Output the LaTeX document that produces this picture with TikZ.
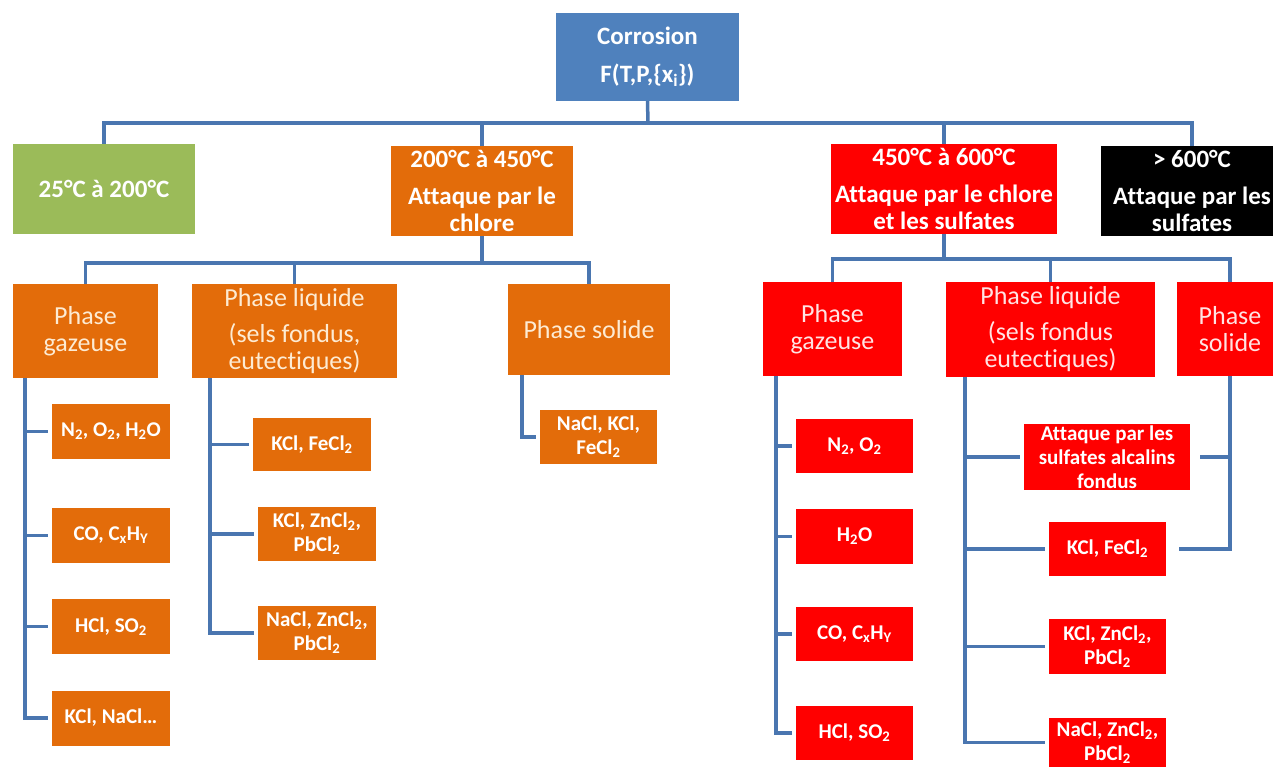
\documentclass[tikz,border=0pt]{standalone}
\usepackage{fontspec}
\setmainfont{Carlito}[Ligatures=NoCommon]
\definecolor{cblue}{HTML}{4F81BD}
\definecolor{lineblue}{HTML}{4A76B0}
\definecolor{cgreen}{HTML}{9BBB59}
\definecolor{corange}{HTML}{E36C0A}
\definecolor{cred}{HTML}{FF0000}
\definecolor{cream}{HTML}{FDEBD3}
\definecolor{pinkw}{HTML}{FFE3E3}
\begin{document}
\begin{tikzpicture}[x=1pt,y=-1pt,
  box/.style={rectangle, inner sep=0pt, outer sep=0pt, align=center},
  big/.style={box, font=\bfseries\fontsize{25}{27}\selectfont, text=white},
  ph/.style={box, font=\fontsize{26}{27}\selectfont},
  sm/.style={box, font=\bfseries\fontsize{21}{24}\selectfont, text=white},
  conn/.style={draw=lineblue, line width=3.5pt},
  tick/.style={conn, shorten >=4pt},
  ]
\useasboundingbox (0,0) rectangle (1273,767);
\clip (0,0) rectangle (1273,767);

% root
\node[big, fill=cblue, minimum width=183pt, minimum height=88pt] (root) at (647.5,57)
  {Corrosion\\[11pt]F(T,P,\{x\textsubscript{i}\})};

% level 1
\node[big, fill=cgreen, minimum width=182pt, minimum height=90pt] (g1) at (104,189) {25°C à 200°C};
\node[big, fill=corange, minimum width=182pt, minimum height=90pt] (o1) at (482,191)
  {200°C à 450°C\\[10pt]Attaque par le\\chlore};
\node[big, fill=cred, minimum width=226pt, minimum height=90pt] (r1) at (944,189)
  {450°C à 600°C\\[10pt]Attaque par le chlore\\et les sulfates};
\node[big, fill=black, minimum width=182pt, minimum height=90pt] (b1) at (1192,191)
  {> 600°C\\[10pt]Attaque par les\\sulfates};

\coordinate (bar1) at (648,123);
\draw[conn] (root.south) -- (bar1);
\draw[conn] (g1.north) -- (g1.north |- bar1) -- (b1.north |- bar1) -- (b1.north);
\draw[conn] (o1.north) -- (o1.north |- bar1);
\draw[conn] (r1.north) -- (r1.north |- bar1);

% orange phases
\node[ph, fill=corange, text=cream, minimum width=145pt, minimum height=94pt] (og) at (85.5,331) {Phase\\gazeuse};
\node[ph, fill=corange, text=cream, minimum width=205pt, minimum height=94pt] (ol) at (294.5,331)
  {Phase liquide\\[9pt](sels fondus,\\eutectiques)};
\node[ph, fill=corange, text=cream, minimum width=162pt, minimum height=91pt] (os) at (589,329.5) {Phase solide};

\coordinate (bar2) at (482,263);
\draw[conn] (o1.south) -- (o1.south |- bar2);
\draw[conn] (og.north) -- (og.north |- bar2) -- (os.north |- bar2) -- (os.north);
\draw[conn] (ol.north) -- (ol.north |- bar2);

% red phases
\node[ph, fill=cred, text=pinkw, minimum width=139pt, minimum height=94pt] (rg) at (832.5,329) {Phase\\gazeuse};
\node[ph, fill=cred, text=pinkw, minimum width=209pt, minimum height=95pt] (rl) at (1050.5,329.5)
  {Phase liquide\\[9pt](sels fondus\\eutectiques)};
\node[ph, fill=cred, text=pinkw, minimum width=106pt, minimum height=94pt] (rs) at (1230,329) {Phase\\solide};

\coordinate (bar3) at (944,259);
\draw[conn] (r1.south) -- (r1.south |- bar3);
\draw[conn] (rg.north) -- (rg.north |- bar3) -- (rs.north |- bar3) -- (rs.north);
\draw[conn] (rl.north) -- (rl.north |- bar3);

% orange gas children
\node[sm, fill=corange, minimum width=118pt, minimum height=55pt] (ogk1) at (111,431.5) {N\textsubscript{2}, O\textsubscript{2}, H\textsubscript{2}O};
\node[sm, fill=corange, minimum width=118pt, minimum height=55pt] (ogk2) at (111,535.5) {CO, C\textsubscript{x}H\textsubscript{Y}};
\node[sm, fill=corange, minimum width=118pt, minimum height=55pt] (ogk3) at (111,626.5) {HCl, SO\textsubscript{2}};
\node[sm, fill=corange, minimum width=118pt, minimum height=55pt] (ogk4) at (111,718) {KCl, NaCl…};
\coordinate (ogx) at (25,0);
\draw[tick] (og.south -| ogx) |- (ogk4.west);
\foreach \k in {ogk1,ogk2,ogk3} \draw[tick] (ogx |- \k.west) -- (\k.west);

% orange liquid children
\node[sm, fill=corange, minimum width=118pt, minimum height=53pt] (olk1) at (312,444.5) {KCl, FeCl\textsubscript{2}};
\node[sm, fill=corange, minimum width=118pt, minimum height=54pt] (olk2) at (317,534) {KCl, ZnCl\textsubscript{2},\\PbCl\textsubscript{2}};
\node[sm, fill=corange, minimum width=118pt, minimum height=54pt] (olk3) at (317,633) {NaCl, ZnCl\textsubscript{2},\\PbCl\textsubscript{2}};
\coordinate (olx) at (210,0);
\draw[tick] (ol.south -| olx) |- (olk3.west);
\foreach \k in {olk1,olk2} \draw[tick] (olx |- \k.west) -- (\k.west);

% orange solid child
\node[sm, fill=corange, minimum width=117pt, minimum height=54pt] (osk) at (598.5,437) {NaCl, KCl,\\FeCl\textsubscript{2}};
\coordinate (osx) at (522,0);
\draw[tick] (os.south -| osx) |- (osk.west);

% red gas children
\node[sm, fill=cred, minimum width=117pt, minimum height=54pt] (rgk1) at (854.5,446) {N\textsubscript{2}, O\textsubscript{2}};
\node[sm, fill=cred, minimum width=117pt, minimum height=55pt] (rgk2) at (854.5,536.5) {H\textsubscript{2}O};
\node[sm, fill=cred, minimum width=117pt, minimum height=54pt] (rgk3) at (854.5,634) {CO, C\textsubscript{x}H\textsubscript{Y}};
\node[sm, fill=cred, minimum width=117pt, minimum height=54pt] (rgk4) at (854.5,733) {HCl, SO\textsubscript{2}};
\coordinate (rgx) at (776,0);
\draw[tick] (rg.south -| rgx) |- (rgk4.west);
\foreach \k in {rgk1,rgk2,rgk3} \draw[tick] (rgx |- \k.west) -- (\k.west);

% red liquid children
\node[sm, fill=cred, minimum width=166pt, minimum height=66pt] (rla) at (1107,457) {Attaque par les\\sulfates alcalins\\fondus};
\node[sm, fill=cred, minimum width=117pt, minimum height=54pt] (rlk1) at (1107.5,549) {KCl, FeCl\textsubscript{2}};
\node[sm, fill=cred, minimum width=117pt, minimum height=55pt] (rlk2) at (1107.5,646.5) {KCl, ZnCl\textsubscript{2},\\PbCl\textsubscript{2}};
\node[sm, fill=cred, minimum width=117pt, minimum height=49pt] (rlk3) at (1107.5,742.5) {NaCl, ZnCl\textsubscript{2},\\PbCl\textsubscript{2}};
\coordinate (rlx) at (965,0);
\draw[tick] (rl.south -| rlx) |- (rlk3.west);
\foreach \k in {rla,rlk1,rlk2} \draw[tick] (rlx |- \k.west) -- (\k.west);

% red solid connectors
\draw[conn, shorten >=13pt] (rs.south) |- (rlk1.east);
\draw[conn, shorten <=10pt] (rla.east) -- (rla.east -| rs.south);
\end{tikzpicture}
\end{document}
